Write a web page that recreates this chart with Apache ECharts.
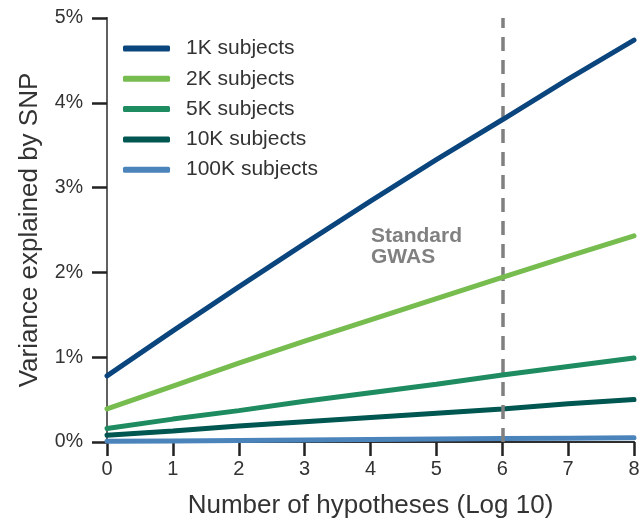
<!DOCTYPE html>
<html><head><meta charset="utf-8">
<script src="https://cdn.jsdelivr.net/npm/echarts@6/dist/echarts.min.js"></script>
<style>html,body{margin:0;padding:0;background:#fff}#c{width:643px;height:525px}</style>
</head><body><div id="c"></div>
<script>
const hypotheses = [0, 1, 2, 3, 4, 5, 6, 7, 8];
const seriesNames = ['1K subjects', '2K subjects', '5K subjects', '10K subjects', '100K subjects'];
const v1K = [0.78, 1.31, 1.83, 2.34, 2.84, 3.33, 3.80, 4.28, 4.74];
const v2K = [0.39, 0.66, 0.93, 1.19, 1.44, 1.69, 1.94, 2.19, 2.43];
const v5K = [0.16, 0.27, 0.37, 0.48, 0.58, 0.68, 0.79, 0.89, 0.99];
const v10K = [0.08, 0.13, 0.19, 0.24, 0.29, 0.34, 0.39, 0.45, 0.50];
const v100K = [0.008, 0.013, 0.019, 0.024, 0.029, 0.034, 0.040, 0.045, 0.050];
const colors = ['#0b457e', '#77bc4f', '#1e8c60', '#005650', '#4a84bb'];
const yTicks = [0, 1, 2, 3, 4, 5];
const standardX = 6;

const all = [v1K, v2K, v5K, v10K, v100K];
const font = 'Liberation Sans, Arial, sans-serif';
const chart = echarts.init(document.getElementById('c'));
const series = all.map((vals, i) => ({
  name: seriesNames[i], type: 'line', showSymbol: false, symbol: 'none',
  data: hypotheses.map((x, j) => [x, vals[j]]),
  lineStyle: { width: 5, color: colors[i], cap: 'round' },
  itemStyle: { color: colors[i] }, z: 3 + (4 - i),
  animation: false
}));
series.push({
  type: 'line', data: [], silent: true,
  markLine: {
    symbol: 'none', silent: true, animation: false,
    label: { show: false },
    lineStyle: { type: [14, 9], color: '#808080', width: 3.5 },
    data: [{ xAxis: standardX }]
  }, z: 2
});
chart.setOption({
  animation: false,
  grid: { left: 107, right: 9, top: 18, bottom: 83 },
  legend: {
    orient: 'vertical', left: 118, top: 33, itemWidth: 47, itemHeight: 6, itemGap: 9.3,
    icon: 'roundRect', data: seriesNames,
    textStyle: { fontFamily: font, fontSize: 21, color: '#333', padding: [0, 0, 0, 11] }
  },
  xAxis: [{
    type: 'value', min: 0, max: 8, interval: 1,
    name: 'Number of hypotheses (Log 10)', nameLocation: 'middle', nameGap: 51,
    nameTextStyle: { fontFamily: font, fontSize: 26, color: '#333' },
    axisLine: { lineStyle: { color: '#222', width: 2 } },
    axisTick: { inside: false, length: 14, lineStyle: { color: '#222', width: 2.5 } },
    axisLabel: { fontFamily: font, fontSize: 20, color: '#333', margin: 17 },
    splitLine: { show: false }
  }, {
    type: 'value', min: 0, max: 8, position: 'top',
    axisLine: { show: true, lineStyle: { color: '#333', width: 1.5 } },
    axisTick: { show: false }, axisLabel: { show: false }, splitLine: { show: false }
  }],
  yAxis: [{
    type: 'value', min: 0, max: 5, interval: 1,
    name: 'Variance explained by SNP', nameLocation: 'middle', nameGap: 64,
    nameTextStyle: { fontFamily: font, fontSize: 26, color: '#333' },
    axisLine: { show: true, lineStyle: { color: '#222', width: 2 } },
    axisTick: { show: true, length: 15, lineStyle: { color: '#222', width: 2.5 } },
    axisLabel: { fontFamily: font, fontSize: 19.5, color: '#333', margin: 24, formatter: '{value}%' },
    splitLine: { show: false }
  }, {
    type: 'value', min: 0, max: 5, position: 'right',
    axisLine: { show: true, lineStyle: { color: '#777', width: 1.5 } },
    axisTick: { show: false }, axisLabel: { show: false }, splitLine: { show: false }
  }],
  graphic: [{
    type: 'text', left: 371, top: 226,
    style: { text: 'Standard\nGWAS', fontFamily: font, fontSize: 21, fontWeight: 'bold', fill: '#808080', lineHeight: 21 }
  }],
  series: series
});
</script></body></html>
